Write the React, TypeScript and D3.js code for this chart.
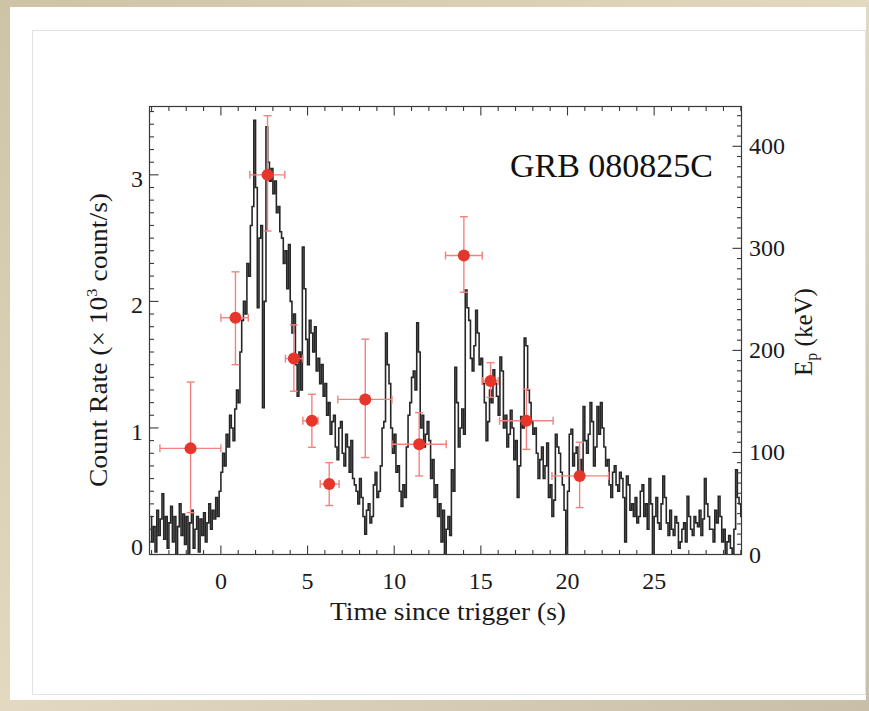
import React from "react";
import * as d3 from "d3";

// ---- Data ----
// Light curve (10^3 counts/s), bins of 0.1 s starting at -4.1 s
const lcStart = -4.1;
const lcBin = 0.1;
const lcValues = [
  0.3, 0.1, 0.22, 0.02, 0.35, 0.15, 0.28, 0.48, 0.12, 0.3,
  0.05, 0.25, 0.38, 0.1, 0.3, 0.0, 0.22, 0.4, 0.15, 0.32,
  0.08, 0.3, 0.0, 0.25, 0.35, 0.05, 0.2, 0.3, 0.02, 0.28,
  0.15, 0.33, 0.1, 0.25, 0.4, 0.2, 0.35, 0.28, 0.45, 0.3,
  0.5, 0.65, 0.8, 0.7, 0.95, 0.85, 1.1, 1.0, 0.9, 1.15,
  1.3, 1.2, 1.6, 1.85, 2.0, 1.9, 2.3, 2.2, 2.6, 2.75,
  3.43, 2.9, 1.95, 2.5, 2.6, 1.16, 2.0, 3.38, 3.1, 2.95,
  3.05, 2.85, 2.95, 2.7, 2.75, 2.55, 2.5, 2.3, 2.4, 2.1,
  2.45, 2.0, 1.75, 1.9, 1.5, 1.25, 1.6, 1.3, 2.43, 2.1,
  1.7, 1.5, 1.85, 1.75, 1.6, 1.8, 1.45, 1.55, 1.35, 1.5,
  1.25, 1.35, 1.1, 1.2, 0.95, 1.05, 1.1, 0.85, 0.75, 1.0,
  1.05, 0.8, 0.7, 0.95, 0.85, 0.65, 0.9, 0.6, 0.55, 0.5,
  0.4, 0.6, 0.45, 0.3, 0.16, 0.35, 0.4, 0.25, 0.3, 0.55,
  0.65, 0.45, 0.5, 0.7, 1.0, 1.05, 1.75, 1.5, 1.35, 1.0,
  0.8, 0.95, 0.65, 0.7, 0.5, 0.38, 0.55, 0.45, 0.85, 1.1,
  1.2, 1.4, 1.45, 1.3, 1.83, 1.6, 1.0, 1.1, 0.85, 0.95,
  1.05, 0.9, 0.6, 0.75, 0.45, 0.55, 0.3, 0.4, 0.1, 0.35,
  0.0, 0.2, 0.3, 0.15, 0.67, 0.5, 1.48, 1.2, 0.85, 1.0,
  1.15, 0.95, 2.09, 1.95, 1.85, 1.55, 1.45, 1.65, 1.93, 1.75,
  1.5, 1.55, 1.35, 1.2, 0.9, 1.05, 1.3, 1.2, 1.46, 1.35,
  1.25, 1.1, 1.56, 1.45, 1.0, 1.1, 0.85, 0.95, 1.14, 1.0,
  0.75, 0.9, 0.45, 0.7, 1.09, 1.0, 1.71, 1.65, 1.3, 1.2,
  1.05, 0.95, 1.0, 0.8, 0.6, 0.75, 0.85, 0.6, 0.7, 0.88,
  0.45, 0.55, 0.3, 0.43, 0.95, 0.85, 0.8, 0.65, 0.55, 0.35,
  0.0, 0.5, 0.95, 0.99, 0.7, 0.8, 0.85, 0.6, 0.75, 0.6,
  1.17, 0.9, 0.8, 0.95, 1.2, 1.05, 0.7, 0.85, 1.17, 0.95,
  1.2, 1.0, 0.85, 0.7, 0.75, 0.55, 0.45, 0.65, 0.7, 0.55,
  0.5, 0.65, 0.6, 0.45, 0.1, 0.62, 0.55, 0.35, 0.4, 0.3,
  0.45, 0.25, 0.3, 0.5, 0.55, 0.3, 0.4, 0.2, 0.6, 0.4,
  0.0, 0.3, 0.45, 0.25, 0.2, 0.4, 0.62, 0.45, 0.25, 0.15,
  0.35, 0.2, 0.15, 0.3, 0.25, 0.05, 0.1, 0.2, 0.25, 0.1,
  0.46, 0.3, 0.2, 0.15, 0.3, 0.25, 0.22, 0.35, 0.15, 0.28,
  0.6, 0.4, 0.3, 0.2, 0.2, 0.1, 0.35, 0.25, 0.46, 0.3,
  0.1, 0.2, 0.0, 0.1, 0.15, 0.05, 0.0, 0.2, 0.67, 0.45,
  0.4, 0.3,
];

// Peak energy points (keV) with error bars
const epTime = [-1.75, 0.84, 2.69, 4.21, 5.25, 6.25, 8.33, 11.44, 14.02, 15.56, 17.63, 20.7];
const epTimeLo = [-3.52, 0.0, 1.67, 3.72, 4.73, 5.73, 6.75, 9.87, 12.96, 15.08, 16.08, 19.1];
const epTimeHi = [0.0, 1.58, 3.69, 4.73, 5.6, 6.82, 9.87, 13.0, 15.08, 16.0, 19.17, 22.37];
const epValue = [104, 232, 372, 192, 131, 69, 152, 108, 293, 170, 131, 77];
const epLo = [41, 186, 317, 160, 105, 48, 95, 77, 257, 154, 103, 46];
const epHi = [169, 277, 430, 225, 157, 90, 211, 139, 331, 188, 162, 110];

const xMajor = [0, 5, 10, 15, 20, 25];
const yLeftMajor = [0, 1, 2, 3];
const yRightMajor = [0, 100, 200, 300, 400];
const title = "GRB 080825C";

// ---- Layout ----
const W = 869;
const H = 711;
const plot = { left: 149.5, right: 741.5, top: 106.5, bottom: 554.5 };

const x = d3.scaleLinear().domain([-4.12, 30.04]).range([plot.left, plot.right]);
const yL = d3.scaleLinear().domain([0, 3.54]).range([plot.bottom, plot.top]);
const yR = d3.scaleLinear().domain([0, 439]).range([plot.bottom, plot.top]);

const serif = "'Liberation Serif', 'DejaVu Serif', 'Times New Roman', serif";

export default function App() {
  const lcPoints: [number, number][] = lcValues.map((v, i) => [lcStart + lcBin * (i + 0.5), v]);
  const lineGen = d3
    .line<[number, number]>()
    .x((d) => x(d[0]))
    .y((d) => yL(d[1]))
    .curve(d3.curveStep);
  const lcPath = lineGen(lcPoints) || "";

  const xMinor = d3.range(-4, 31, 1);
  const yLeftMinor = d3.range(0, 3.55, 0.1);
  const yRightMinor = d3.range(0, 440, 10);

  const axisColor = "#3a3a3a";
  const errColor = "#f1837c";
  const dotColor = "#e6352b";

  return (
    <svg
      width={W}
      height={H}
      style={{ position: "absolute", left: 0, top: 0 }}
      xmlns="http://www.w3.org/2000/svg"
    >
      <defs>
        <linearGradient id="bg" x1="0" y1="0" x2="1" y2="1">
          <stop offset="0" stopColor="#cfc3a6" />
          <stop offset="0.5" stopColor="#e3d9c0" />
          <stop offset="1" stopColor="#c9bfa8" />
        </linearGradient>
        <clipPath id="plotClip">
          <rect x={plot.left} y={plot.top} width={plot.right - plot.left} height={plot.bottom - plot.top} />
        </clipPath>
      </defs>
      <rect x={0} y={0} width={W} height={H} fill="url(#bg)" />
      <rect x={10} y={7} width={856} height={693} fill="#ffffff" />
      <rect x={32.5} y={30.5} width={833} height={664} fill="#ffffff" stroke="#e2e2e2" strokeWidth={1} />

      {/* light curve */}
      <g clipPath="url(#plotClip)">
        <path d={lcPath} fill="none" stroke="#000" strokeWidth={1.6} strokeLinejoin="miter" opacity={0.85} />
      </g>

      {/* Ep error bars and points */}
      <g>
        {epTime.map((t, i) => (
          <g key={i} stroke={errColor} strokeWidth={1.4} fill="none">
            <line x1={x(epTimeLo[i])} x2={x(epTimeHi[i])} y1={yR(epValue[i])} y2={yR(epValue[i])} />
            <line x1={x(t)} x2={x(t)} y1={yR(epLo[i])} y2={yR(epHi[i])} />
            <line x1={x(t) - 4} x2={x(t) + 4} y1={yR(epLo[i])} y2={yR(epLo[i])} />
            <line x1={x(t) - 4} x2={x(t) + 4} y1={yR(epHi[i])} y2={yR(epHi[i])} />
            <line x1={x(epTimeLo[i])} x2={x(epTimeLo[i])} y1={yR(epValue[i]) - 4} y2={yR(epValue[i]) + 4} />
            <line x1={x(epTimeHi[i])} x2={x(epTimeHi[i])} y1={yR(epValue[i]) - 4} y2={yR(epValue[i]) + 4} />
          </g>
        ))}
        {epTime.map((t, i) => (
          <circle key={"c" + i} cx={x(t)} cy={yR(epValue[i])} r={6} fill={dotColor} />
        ))}
      </g>

      {/* frame */}
      <rect
        x={plot.left}
        y={plot.top}
        width={plot.right - plot.left}
        height={plot.bottom - plot.top}
        fill="none"
        stroke={axisColor}
        strokeWidth={1.2}
      />

      {/* ticks */}
      <g stroke={axisColor} strokeWidth={1.1}>
        {xMinor.map((v) => {
          const len = xMajor.includes(v) ? 9 : 4.5;
          return (
            <g key={"xt" + v}>
              <line x1={x(v)} x2={x(v)} y1={plot.bottom} y2={plot.bottom - len} />
              <line x1={x(v)} x2={x(v)} y1={plot.top} y2={plot.top + len} />
            </g>
          );
        })}
        {yLeftMinor.map((v, i) => {
          const len = i % 10 === 0 ? 9 : 4.5;
          return <line key={"yl" + i} x1={plot.left} x2={plot.left + len} y1={yL(v)} y2={yL(v)} />;
        })}
        {yRightMinor.map((v, i) => {
          const len = i % 10 === 0 ? 9 : 4.5;
          return <line key={"yr" + i} x1={plot.right} x2={plot.right - len} y1={yR(v)} y2={yR(v)} />;
        })}
      </g>

      {/* tick labels */}
      <g fontFamily={serif} fontSize={24} fill="#1a1a1a">
        {xMajor.map((v) => (
          <text key={"xl" + v} x={x(v)} y={589} textAnchor="middle">
            {v}
          </text>
        ))}
        {yLeftMajor.map((v) => (
          <text key={"yll" + v} x={143} y={Math.min(yL(v) + 4, yL(0) - 8) + 8} textAnchor="end">
            {v}
          </text>
        ))}
        {yRightMajor.map((v) => (
          <text key={"yrl" + v} x={749} y={yR(v) + 8} textAnchor="start">
            {v}
          </text>
        ))}
      </g>

      {/* titles */}
      <text
        x={448}
        y={620}
        textAnchor="middle"
        fontFamily={serif}
        fontSize={25}
        fill="#1a1a1a"
        textLength={236}
        lengthAdjust="spacingAndGlyphs"
      >
        Time since trigger (s)
      </text>
      <text
        transform="translate(107,340) rotate(-90)"
        textAnchor="middle"
        fontFamily={serif}
        fontSize={25}
        fill="#1a1a1a"
        textLength={294}
        lengthAdjust="spacingAndGlyphs"
      >
        Count Rate (× 10
        <tspan fontSize={15} dy={-10}>3</tspan>
        <tspan dy={10}> count/s)</tspan>
      </text>
      <text
        transform="translate(812,332) rotate(-90)"
        textAnchor="middle"
        fontFamily={serif}
        fontSize={25}
        fill="#1a1a1a"
      >
        E<tspan fontSize={16} dy={5}>p</tspan>
        <tspan dy={-5}> (keV)</tspan>
      </text>
      <text
        x={713}
        y={177}
        textAnchor="end"
        fontFamily={serif}
        fontSize={34}
        fill="#111"
      >
        {title}
      </text>
    </svg>
  );
}
